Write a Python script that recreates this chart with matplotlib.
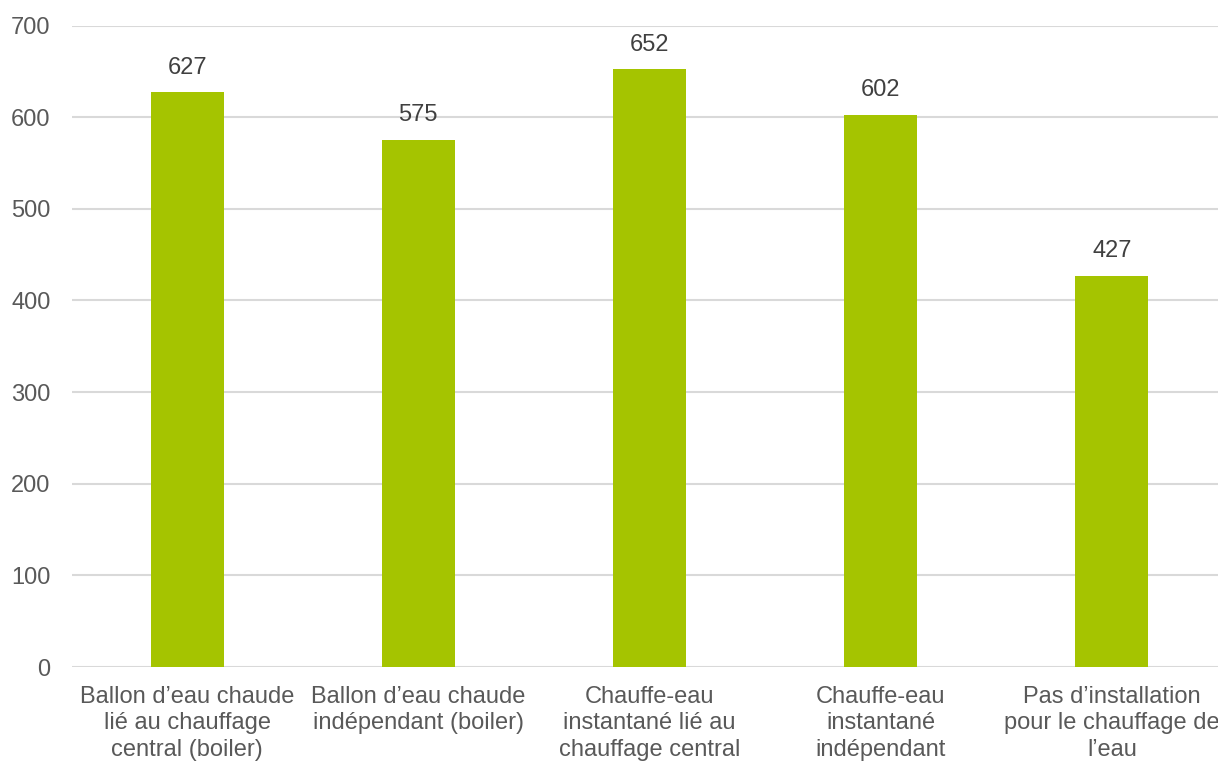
import matplotlib
matplotlib.use("Agg")
import matplotlib.pyplot as plt

categories = [
    "Ballon d\u2019eau chaude\nlié au chauffage\ncentral (boiler)",
    "Ballon d\u2019eau chaude\nindépendant (boiler)",
    "Chauffe-eau\ninstantané lié au\nchauffage central",
    "Chauffe-eau\ninstantané\nindépendant",
    "Pas d\u2019installation\npour le chauffage de\nl\u2019eau",
]
values = [627, 575, 652, 602, 427]
y_ticks = [0, 100, 200, 300, 400, 500, 600, 700]

bar_color = "#A5C400"
grid_color = "#D9D9D9"
tick_color = "#595959"
label_color = "#404040"

plt.rcParams["font.family"] = ["Liberation Sans", "DejaVu Sans"]

W, H = 1218, 762
fig = plt.figure(figsize=(W / 100, H / 100), dpi=100)
left, right, bottom, top = 71.5, 1227.5, 667, 25.5
ax = fig.add_axes([left / W, (H - bottom) / H, (right - left) / W, (bottom - top) / H])

x = list(range(len(categories)))
ax.bar(x, values, width=0.316, color=bar_color, zorder=3)
for xi, v in zip(x, values):
    ax.annotate(str(v), (xi, v), xytext=(0, 10), textcoords="offset points",
                ha="center", va="bottom", fontsize=17, color=label_color)

ax.set_xlim(-0.5, len(categories) - 0.5)
ax.set_ylim(0, 700)
ax.set_yticks(y_ticks)
ax.set_xticks(x)
ax.set_xticklabels(categories, fontsize=17, color=tick_color, linespacing=1.27)
ax.tick_params(axis="y", labelsize=17, labelcolor=tick_color, length=0, pad=15)
ax.tick_params(axis="x", length=0, pad=13.5)
ax.yaxis.grid(True, color=grid_color, linewidth=1.5, zorder=0)
ax.set_axisbelow(True)
for s in ax.spines.values():
    s.set_visible(False)

fig.savefig("out.png", dpi=100)
